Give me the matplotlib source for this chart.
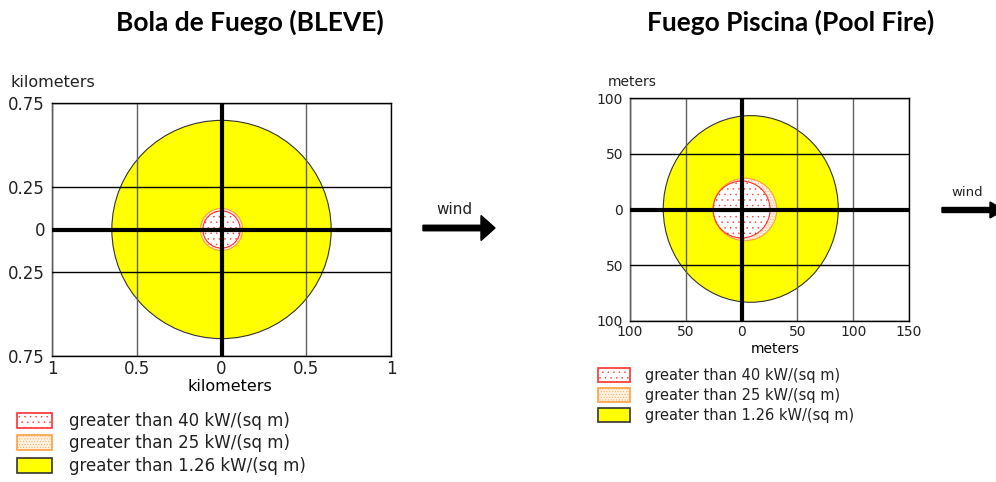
import matplotlib
matplotlib.use('Agg')
import matplotlib.pyplot as plt
from matplotlib.patches import Ellipse, Patch, FancyArrow
from matplotlib.ticker import FuncFormatter

plt.rcParams['font.family'] = ['DejaVu Sans']
plt.rcParams['hatch.linewidth'] = 0.3
plt.rcParams['text.color'] = '#222222'
plt.rcParams['xtick.color'] = '#222222'
plt.rcParams['ytick.color'] = '#222222'

# threat zones, innermost first
zone_labels = ['greater than 40 kW/(sq m)', 'greater than 25 kW/(sq m)', 'greater than 1.26 kW/(sq m)']
zone_face = ['white', '#fff0e0', '#ffff00']
zone_edge = ['#ff3030', '#ffa040', '#333333']
zone_hatch = ['...', '......', None]

# BLEVE fireball zones (km), circles at origin
bleve_r = [0.11, 0.125, 0.647]
bleve_xticks = [-1, -0.5, 0, 0.5, 1]
bleve_yticks = [-0.75, -0.25, 0, 0.25, 0.75]

# pool fire zones (m), ellipses
pool_cx = [0, 3, 8.2]
pool_cy = [0, 0, 0.5]
pool_rx = [25.5, 28.5, 78.4]
pool_ry = [25.5, 28, 83.7]
pool_xticks = [-100, -50, 0, 50, 100, 150]
pool_yticks = [-100, -50, 0, 50, 100]

absfmt = FuncFormatter(lambda v, p: f'{abs(v):g}')

W, H = 996, 482
fig = plt.figure(figsize=(W / 100, H / 100), dpi=100)


def zone_plot(ax, cx, cy, rx, ry, xt, yt, fs):
    # draw outer zone first
    for i in reversed(range(len(rx))):
        ax.add_patch(Ellipse((cx[i], cy[i]), 2 * rx[i], 2 * ry[i],
                             facecolor=zone_face[i], edgecolor=zone_edge[i],
                             hatch=zone_hatch[i], lw=0.8))
    ax.set_xlim(xt[0], xt[-1])
    ax.set_ylim(yt[0], yt[-1])
    ax.set_xticks(xt)
    ax.set_yticks(yt)
    ax.xaxis.set_major_formatter(absfmt)
    ax.yaxis.set_major_formatter(absfmt)
    ax.tick_params(length=0, labelsize=fs)
    ax.tick_params(axis='x', pad=3.2)
    ax.tick_params(axis='y', pad=5)
    ax.set_axisbelow(False)
    ax.grid(axis='x', color='#606060', lw=1)
    ax.grid(axis='y', color='black', lw=1)
    ax.axhline(0, color='black', lw=3, zorder=3)
    ax.axvline(0, color='black', lw=3, zorder=3)
    for s in ax.spines.values():
        s.set_linewidth(1)
        s.set_color('black')


# left: BLEVE
ax1 = fig.add_axes([52 / W, 1 - 356 / H, 339 / W, 253 / H])
zone_plot(ax1, [0] * 3, [0] * 3, bleve_r, bleve_r, bleve_xticks, bleve_yticks, 12)
ax1.set_xlabel('kilometers', fontsize=11.5)
ax1.xaxis.set_label_coords(0.525, -0.089)
ax1.text(0.004, 1.083, 'kilometers', transform=ax1.transAxes, ha='center', va='center', fontsize=11.5)

# right: pool fire
ax2 = fig.add_axes([630 / W, 1 - 321 / H, 279 / W, 223 / H])
zone_plot(ax2, pool_cx, pool_cy, pool_rx, pool_ry, pool_xticks, pool_yticks, 10)
ax2.set_xlabel('meters', fontsize=10)
ax2.xaxis.set_label_coords(0.522, -0.094)
ax2.text(0.007, 1.073, 'meters', transform=ax2.transAxes, ha='center', va='center', fontsize=10)

# titles
fig.text(250 / W, 1 - 22 / H, 'Bola de Fuego (BLEVE)', ha='center', va='center',
         fontsize=19, fontweight='bold', family='Lato', color='black')
fig.text(791 / W, 1 - 22 / H, 'Fuego Piscina (Pool Fire)', ha='center', va='center',
         fontsize=19, fontweight='bold', family='Lato', color='black')

# legends
handles = [Patch(facecolor=zone_face[i], edgecolor=zone_edge[i], hatch=zone_hatch[i], lw=1.2)
           for i in range(3)]
fig.legend(handles, zone_labels, loc='upper left', bbox_to_anchor=(17 / W, 1 - 412 / H),
           frameon=False, fontsize=12, handlelength=2.1, handleheight=1.02,
           handletextpad=1.0, labelspacing=0.27, borderpad=0, borderaxespad=0)
fig.legend(handles, zone_labels, loc='upper left', bbox_to_anchor=(598 / W, 1 - 368 / H),
           frameon=False, fontsize=10.5, handlelength=2.2, handleheight=1.03,
           handletextpad=1.03, labelspacing=0.34, borderpad=0, borderaxespad=0)

# wind arrows (pixel overlay)
ov = fig.add_axes([0, 0, 1, 1], zorder=-1)
ov.set_xlim(0, W)
ov.set_ylim(H, 0)
ov.axis('off')
ov.add_patch(FancyArrow(423, 228, 72, 0, width=5.5, head_width=25, head_length=14,
                        length_includes_head=True, color='black'))
ov.text(454, 210, 'wind', ha='center', va='center', fontsize=11)
ov.add_patch(FancyArrow(942, 210, 62, 0, width=5, head_width=16, head_length=14,
                        length_includes_head=True, color='black', clip_on=False))
ov.text(967, 193, 'wind', ha='center', va='center', fontsize=9.5)

fig.savefig('out.png', dpi=100)
